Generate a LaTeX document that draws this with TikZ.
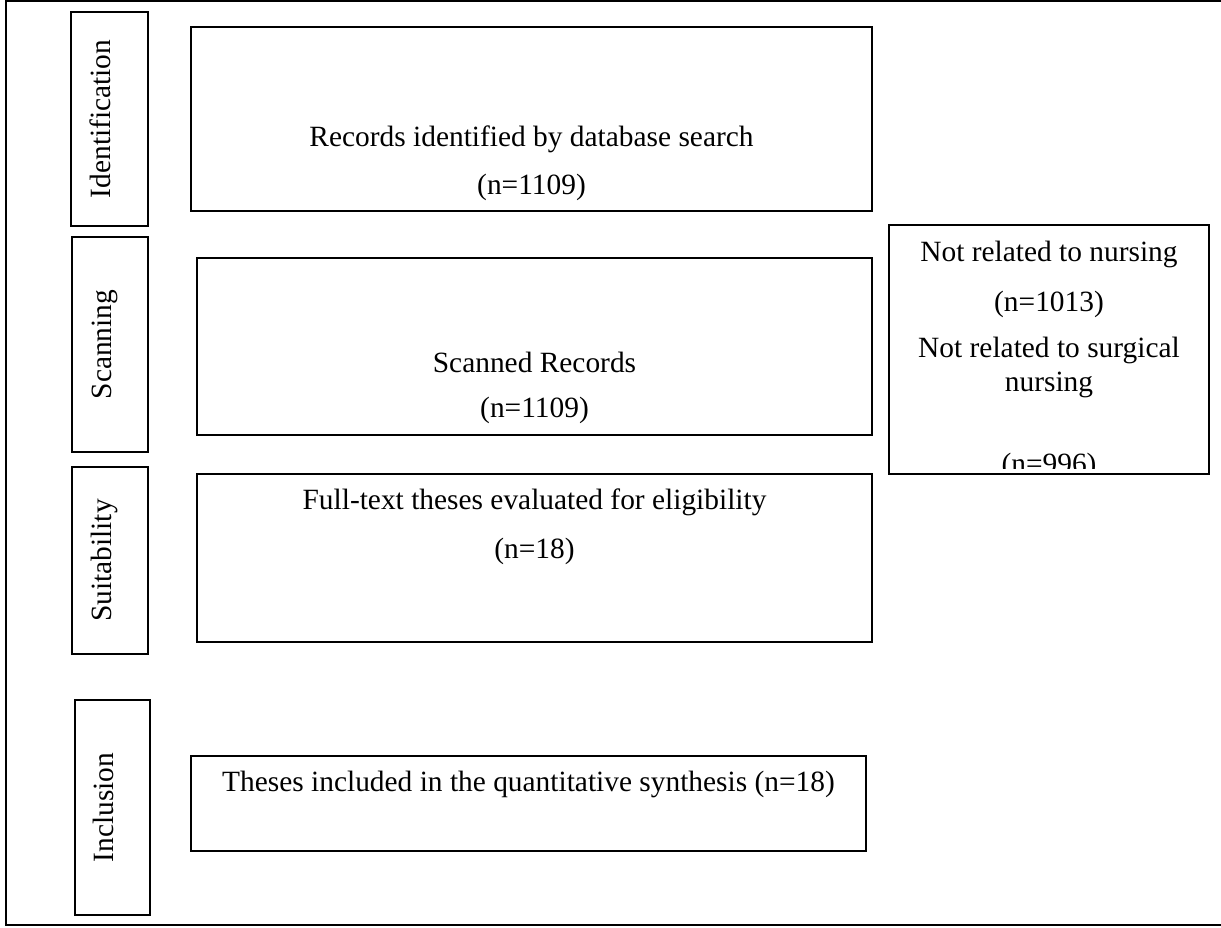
\documentclass[tikz,border=0pt]{standalone}
\usepackage{fontspec}
\setmainfont{Liberation Serif}
\begin{document}
\begin{tikzpicture}[x=1pt,y=-1pt,
  box/.style={draw=black,line width=1.5pt,inner sep=0pt},
  txt/.style={inner sep=0pt,font=\fontsize{29.4}{35}\selectfont},
  side/.style={inner sep=0pt,rotate=90,anchor=base,font=\fontsize{29.4}{35}\selectfont}]
\useasboundingbox (0,0) rectangle (1221,927);
% outer frame (open at right)
\draw[line width=2pt] (1221,1) -- (6,1) -- (6,925) -- (1221,925);
% stage labels
\node[box,minimum width=77pt,minimum height=214pt] (lid) at (109.5,119) {};
\node[side] (tid) at (110,119) {Identification};
\node[box,minimum width=76pt,minimum height=215pt] (lsc) at (110,344.5) {};
\node[side] (tsc) at (111,344.5) {Scanning};
\node[box,minimum width=76pt,minimum height=187pt] (lsu) at (110,560.5) {};
\node[side] (tsu) at (111,560.5) {Suitability};
\node[box,minimum width=75pt,minimum height=215pt] (lin) at (112.5,807.5) {};
\node[side] (tin) at (113,807.5) {Inclusion};
% main boxes
\node[box,minimum width=681pt,minimum height=184pt] (b1) at (531.5,119) {};
\node[txt] (b1a) at (531.5,139) {Records identified by database search};
\node[txt] (b1b) at (531.5,187) {(n=1109)};
\node[box,minimum width=675pt,minimum height=177pt] (b2) at (534.5,346.5) {};
\node[txt] (b2a) at (534.5,362) {Scanned Records};
\node[txt] (b2b) at (534.5,410) {(n=1109)};
\node[box,minimum width=675pt,minimum height=168pt] (b3) at (534.5,558) {};
\node[txt] (b3a) at (534.5,502) {Full-text theses evaluated for eligibility};
\node[txt] (b3b) at (534.5,551) {(n=18)};
\node[box,minimum width=675pt,minimum height=95pt] (b4) at (528.5,803.5) {};
\node[txt] (b4a) at (528.5,784) {Theses included in the quantitative synthesis (n=18)};
% exclusion box
\node[box,minimum width=320pt,minimum height=249pt] (ex) at (1049,349.5) {};
\begin{scope}
\clip (889,225) rectangle (1209,468);
\node[txt] (ex1) at (1049,254) {Not related to nursing};
\node[txt] (ex2) at (1049,304) {(n=1013)};
\node[txt] (ex3) at (1049,350) {Not related to surgical};
\node[txt] (ex4) at (1049,385) {nursing};
\node[txt] (ex5) at (1049,466) {(n=996)};
\end{scope}
\end{tikzpicture}
\end{document}
